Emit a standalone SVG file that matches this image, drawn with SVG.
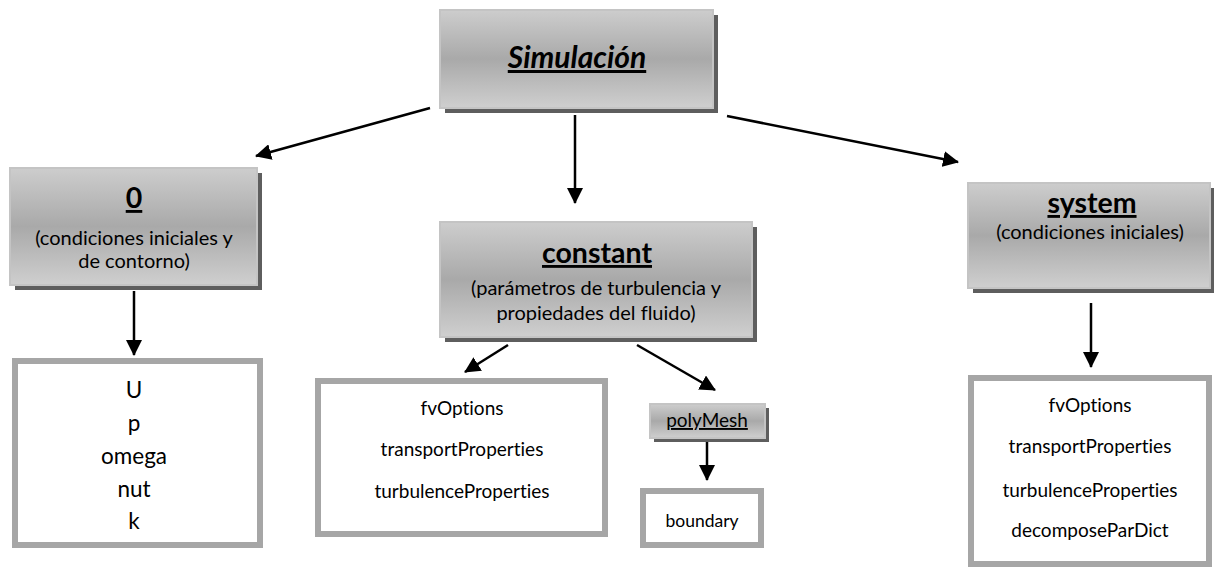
<svg xmlns="http://www.w3.org/2000/svg" width="1214" height="572" viewBox="0 0 1214 572">
<style>
.box{fill:url(#g);stroke:#c4c4c4;stroke-width:2}
.sh{fill:#5e5e5e}
.lst{fill:#fff;stroke:#a6a6a6;stroke-width:6}
.t{font-family:Lato,"Liberation Sans",sans-serif;fill:#000;text-anchor:middle;font-variant-ligatures:none}
.h{font-weight:bold;font-size:28.5px;text-decoration:underline}
.s{font-size:20px}
.l{font-size:19px}
.u{font-size:22.5px}
.c{stroke:#000;stroke-width:2.5;fill:none;marker-end:url(#a)}
</style>
<defs>
<linearGradient id="g" x1="0" y1="0" x2="0" y2="1">
<stop offset="0" stop-color="#cdcdcd"/>
<stop offset="0.5" stop-color="#a9a9a9"/>
<stop offset="1" stop-color="#cfcfcf"/>
</linearGradient>
<marker id="a" markerUnits="userSpaceOnUse" markerWidth="16" markerHeight="16" refX="15" refY="8" orient="auto">
<path d="M0,0 L16,8 L0,16 Z" fill="#000"/>
</marker>
</defs>
<g id="connectors">
<line class="c" x1="430" y1="108" x2="256" y2="156"/>
<line class="c" x1="575" y1="115" x2="575" y2="203"/>
<line class="c" x1="727" y1="116" x2="958" y2="162"/>
<line class="c" x1="134" y1="291" x2="134" y2="355"/>
<line class="c" x1="508" y1="345" x2="465" y2="372"/>
<line class="c" x1="637" y1="345" x2="715" y2="390"/>
<line class="c" x1="707" y1="442" x2="707" y2="480"/>
<line class="c" x1="1091" y1="303" x2="1091" y2="367"/>
</g>
<g id="simulacion">
<rect class="sh" x="445" y="15" width="273" height="98"/>
<rect class="box" x="440" y="10" width="273" height="98"/>
<text class="t" x="577" y="68" font-size="30" font-weight="bold" font-style="italic" text-decoration="underline">Simulación</text>
</g>
<g id="n0">
<rect class="sh" x="15" y="173" width="247" height="117"/>
<rect class="box" x="10" y="168" width="247" height="117"/>
<text class="t h" x="134" y="208">0</text>
<text class="t s" x="134" y="245">(condiciones iniciales y</text>
<text class="t s" x="134" y="268">de contorno)</text>
</g>
<g id="constant">
<rect class="sh" x="445" y="227" width="312" height="115"/>
<rect class="box" x="440" y="222" width="312" height="115"/>
<text class="t h" x="597" y="263">constant</text>
<text class="t s" x="596" y="295">(parámetros de turbulencia y</text>
<text class="t s" x="596" y="320">propiedades del fluido)</text>
</g>
<g id="system">
<rect class="sh" x="973" y="188" width="245" height="105"/>
<rect class="box" x="968" y="183" width="242" height="105"/>
<text class="t h" x="1092" y="213">system</text>
<text class="t s" x="1090" y="239">(condiciones iniciales)</text>
</g>
<g id="list0">
<rect class="lst" x="15" y="361" width="245" height="184"/>
<text class="t u" x="134" y="398">U</text>
<text class="t u" x="134" y="431">p</text>
<text class="t u" x="134" y="464">omega</text>
<text class="t u" x="134" y="497">nut</text>
<text class="t u" x="134" y="529">k</text>
</g>
<g id="listConstant">
<rect class="lst" x="318" y="381" width="287" height="153"/>
<text class="t l" x="462" y="415">fvOptions</text>
<text class="t l" x="462" y="456">transportProperties</text>
<text class="t l" x="462" y="498">turbulenceProperties</text>
</g>
<g id="polyMesh">
<rect class="sh" x="654" y="408" width="115" height="34"/>
<rect class="box" x="650" y="404" width="115" height="34"/>
<text class="t" x="707" y="427" font-size="19" text-decoration="underline">polyMesh</text>
</g>
<g id="boundary">
<rect class="lst" x="643" y="491" width="118" height="54"/>
<text class="t" x="702" y="527" font-size="17.5">boundary</text>
</g>
<g id="listSystem">
<rect class="lst" x="971" y="378" width="238" height="186"/>
<text class="t l" x="1090" y="412">fvOptions</text>
<text class="t l" x="1090" y="453">transportProperties</text>
<text class="t l" x="1090" y="497">turbulenceProperties</text>
<text class="t l" x="1090" y="537">decomposeParDict</text>
</g>
</svg>
